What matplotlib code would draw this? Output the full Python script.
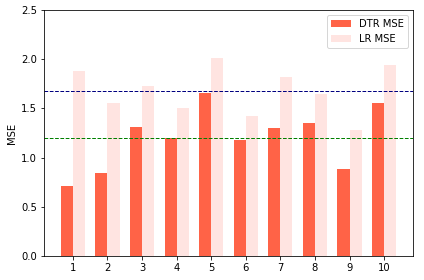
import matplotlib
matplotlib.use("Agg")
import matplotlib.pyplot as plt
import numpy as np

folds = [1, 2, 3, 4, 5, 6, 7, 8, 9, 10]
dtr_mse = [0.71, 0.84, 1.31, 1.20, 1.656, 1.18, 1.30, 1.35, 0.884, 1.555]
lr_mse = [1.88, 1.555, 1.728, 1.504, 2.012, 1.423, 1.819, 1.646, 1.28, 1.94]
lr_mean = 1.677
dtr_mean = 1.199

fig = plt.figure(figsize=(424 / 72, 280 / 72), dpi=72)
ax = fig.add_axes([44 / 424, 1 - 256 / 280, 369 / 424, 246 / 280])

x = np.array(folds)
w = 0.35
ax.bar(x - w / 2, dtr_mse, width=w, color="tomato", label="DTR MSE")
ax.bar(x + w / 2, lr_mse, width=w, color="mistyrose", label="LR MSE")
ax.axhline(lr_mean, color="navy", linestyle="--", linewidth=1)
ax.axhline(dtr_mean, color="green", linestyle="--", linewidth=1)

ax.set_xticks(x)
ax.set_ylim(0, 2.5)
ax.set_ylabel("MSE")
ax.legend(loc="upper right")

fig.savefig("out.png", dpi=72)
